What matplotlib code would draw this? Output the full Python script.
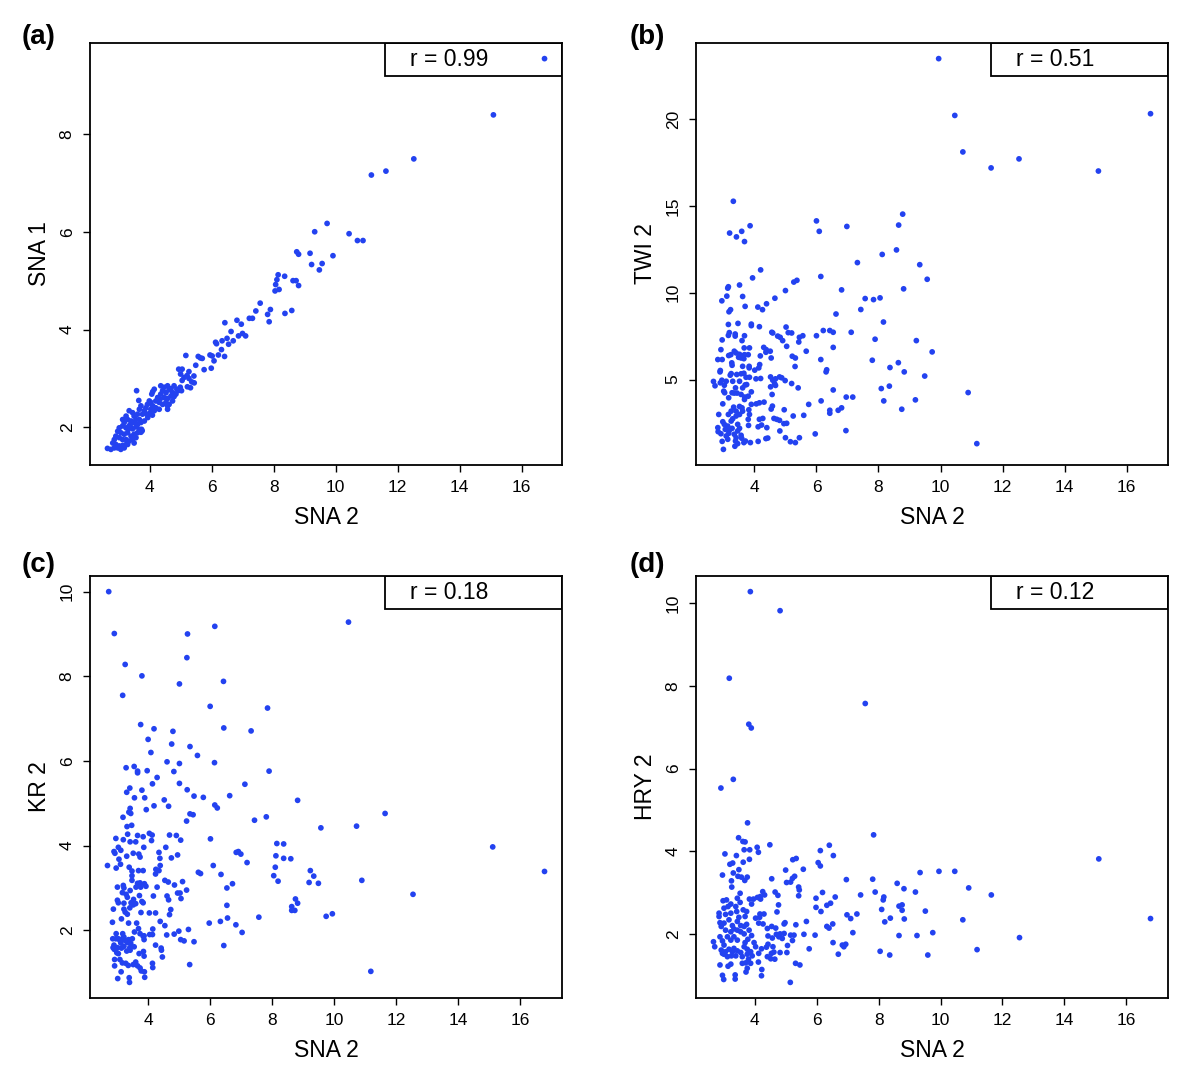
import matplotlib
matplotlib.use('Agg')
import matplotlib.pyplot as plt
from matplotlib.patches import Rectangle

plt.rcParams['font.family'] = ['Liberation Sans', 'DejaVu Sans']

# (SNA 2, SNA 1)
sna1_pts = [
    (16.74, 9.54), (15.09, 8.39), (12.52, 7.49), (11.62, 7.24), (11.15, 7.16), (9.72, 6.17), (9.32, 6.00),
    (10.43, 5.96), (10.70, 5.82), (10.88, 5.82), (9.91, 5.51), (9.17, 5.56), (8.74, 5.59), (8.80, 5.54),
    (9.22, 5.33), (9.56, 5.35), (9.47, 5.22), (8.14, 5.12), (8.35, 5.09), (8.10, 5.02), (8.06, 4.92),
    (8.04, 4.79), (8.17, 4.82), (8.62, 5.00), (8.72, 5.00), (8.80, 4.90), (7.56, 4.54), (7.89, 4.41),
    (7.42, 4.38), (7.80, 4.31), (7.85, 4.16), (8.36, 4.33), (8.58, 4.39), (7.21, 4.23), (7.31, 4.23),
    (6.81, 4.19), (6.95, 4.11), (6.42, 4.14), (6.62, 3.96), (6.86, 3.87), (6.99, 3.92), (7.09, 3.87),
    (6.49, 3.82), (6.69, 3.77), (6.33, 3.77), (6.12, 3.74), (6.15, 3.71), (6.54, 3.70), (6.31, 3.59),
    (6.21, 3.48), (6.41, 3.45), (5.94, 3.48), (6.01, 3.46), (6.07, 3.36), (5.98, 3.21), (5.75, 3.18),
    (5.16, 3.47), (5.56, 3.45), (5.63, 3.42), (5.69, 3.41), (5.48, 3.27), (4.93, 3.19), (5.04, 3.19),
    (4.99, 3.09), (5.26, 3.14), (5.20, 3.06), (5.42, 3.05), (5.10, 3.02), (5.04, 2.96), (5.26, 3.00),
    (5.43, 2.91), (5.35, 2.93), (5.21, 2.83), (5.31, 2.81), (3.57, 2.75), (3.64, 2.55), (4.98, 2.82),
    (5.02, 2.75),
    (4.09, 2.73), (4.14, 2.78), (4.06, 2.68), (4.35, 2.85), (4.46, 2.82), (4.57, 2.85), (4.68, 2.79),
    (4.78, 2.85), (4.87, 2.78), (4.91, 2.75), (4.41, 2.75), (4.52, 2.71), (4.62, 2.77), (4.73, 2.71),
    (4.84, 2.68), (4.35, 2.68), (4.25, 2.61), (4.33, 2.58), (4.46, 2.61), (4.57, 2.59), (4.68, 2.64),
    (4.78, 2.63), (4.19, 2.54), (4.30, 2.51), (4.41, 2.47), (4.52, 2.51), (4.62, 2.47), (4.73, 2.54),
    (4.03, 2.51), (4.09, 2.44), (4.19, 2.40), (4.30, 2.37), (4.14, 2.34), (4.03, 2.37), (3.98, 2.54),
    (3.92, 2.47), (3.87, 2.40), (3.82, 2.34), (3.71, 2.44), (3.66, 2.37), (3.76, 2.27), (3.90, 2.27),
    (4.00, 2.29), (4.57, 2.44), (4.57, 2.37), (3.60, 2.27), (3.49, 2.23), (3.55, 2.16), (3.66, 2.16),
    (3.71, 2.10), (3.82, 2.13), (3.60, 2.06), (3.49, 2.10), (3.39, 2.13), (3.28, 2.16), (3.23, 2.23),
    (3.33, 2.34), (3.44, 2.30), (3.17, 2.10), (3.12, 2.03), (3.23, 1.99), (3.33, 2.03), (3.44, 1.97),
    (3.55, 2.01), (3.66, 1.96), (3.71, 1.90), (3.60, 1.89), (3.49, 1.86), (3.01, 1.99), (2.96, 1.92),
    (3.06, 1.89), (3.17, 1.86), (3.28, 1.89), (3.39, 1.82), (2.90, 1.82), (3.01, 1.79), (3.12, 1.75),
    (3.23, 1.75), (3.33, 1.72), (3.44, 1.75), (3.55, 1.79), (2.85, 1.75), (2.80, 1.68), (2.90, 1.65),
    (3.01, 1.62), (3.12, 1.63), (3.23, 1.65), (3.17, 1.58), (3.06, 1.55), (2.96, 1.58), (2.85, 1.58),
    (2.74, 1.55), (2.63, 1.57), (3.73, 1.96), (3.30, 1.96), (3.37, 2.06), (3.12, 2.16), (3.49, 1.68),
    (3.28, 1.65), (3.93, 2.20), (4.08, 2.25), (3.75, 1.93),
]

# (SNA 2, TWI 2)
twi2_pts = [
    (9.94, 23.47), (10.46, 20.20), (16.77, 20.30), (10.72, 18.10), (11.63, 17.18), (12.53, 17.70),
    (15.09, 17.00), (3.32, 15.26), (3.20, 13.43), (3.42, 13.21), (3.59, 13.53), (3.68, 12.94),
    (3.86, 13.85), (6.00, 14.13), (6.09, 13.53), (6.98, 13.81), (8.78, 14.52), (8.65, 13.89),
    (8.58, 12.46), (8.12, 12.20), (7.32, 11.73), (9.33, 11.61), (9.57, 10.77), (8.81, 10.22),
    (4.20, 11.31), (6.14, 10.93), (5.27, 10.61), (5.37, 10.71), (3.94, 10.85), (3.52, 10.44),
    (3.16, 10.34), (3.14, 10.26), (5.00, 10.12), (6.81, 10.16), (7.57, 9.66), (7.84, 9.60),
    (8.05, 9.70), (7.43, 9.03), (8.16, 8.31), (6.63, 8.77), (7.89, 7.32), (9.22, 7.24), (9.73, 6.59),
    (7.80, 6.11), (8.64, 5.97), (8.37, 5.69), (8.83, 5.44), (9.49, 5.20), (8.35, 4.62), (8.09, 4.48),
    (8.17, 3.77), (10.89, 4.25), (9.19, 3.83), (8.75, 3.29), (11.17, 1.31), (7.12, 7.72), (6.96, 3.99),
    (7.17, 3.99), (6.95, 2.06), (6.81, 3.37), (6.70, 3.23), (6.43, 3.23), (6.43, 3.06), (6.54, 4.40),
    (6.54, 6.85), (6.15, 3.77), (6.33, 5.56), (6.31, 5.44), (6.14, 6.15), (6.00, 7.52), (6.22, 7.82),
    (6.43, 7.82), (6.54, 7.72), (5.96, 1.87),
    (2.95, 9.53), (3.11, 9.80), (3.62, 9.78), (3.23, 9.02), (3.18, 8.90), (3.70, 9.21), (4.11, 9.17),
    (4.26, 9.02), (4.39, 9.36), (4.66, 9.68), (3.16, 8.17), (3.47, 8.23), (3.90, 8.19), (3.90, 8.10),
    (4.16, 8.04), (5.02, 8.02), (3.19, 7.70), (3.16, 7.54), (3.38, 7.62), (3.38, 7.50), (3.68, 7.52),
    (2.96, 7.28), (3.60, 7.24), (4.56, 7.72), (4.59, 7.68), (4.75, 7.50), (4.83, 7.43), (4.91, 7.24),
    (5.09, 7.70), (5.20, 7.68), (5.45, 7.43), (5.56, 7.52), (5.43, 7.16), (5.67, 6.63), (2.92, 6.72),
    (2.82, 6.15), (2.96, 6.15), (3.17, 6.38), (3.24, 6.43), (3.35, 6.63), (3.41, 6.53), (3.52, 6.45),
    (3.60, 6.34), (3.68, 6.43), (3.80, 6.43), (3.49, 6.28), (3.57, 6.24), (3.66, 6.20), (3.84, 6.82),
    (3.67, 6.82), (3.27, 5.96), (3.28, 5.82), (3.62, 5.76), (3.83, 5.76), (3.83, 5.67), (4.17, 5.86),
    (4.14, 5.67), (4.01, 5.54), (4.30, 6.85), (4.38, 6.72), (4.37, 6.57), (4.19, 6.36), (4.51, 6.63),
    (2.90, 5.52), (2.89, 5.44), (2.68, 4.89), (2.73, 4.64), (2.95, 4.96), (2.90, 4.81), (3.25, 5.34),
    (3.22, 5.25), (3.01, 4.33), (3.04, 4.24), (3.35, 4.22), (3.44, 4.22), (3.17, 3.95), (3.30, 4.90),
    (3.57, 5.33), (3.66, 5.36), (3.73, 5.13), (3.84, 5.13), (3.70, 4.69), (3.62, 4.52), (3.69, 3.99),
    (3.68, 3.85), (3.90, 4.29), (4.05, 5.04), (4.20, 5.06), (4.52, 5.15), (4.59, 4.96), (4.68, 5.04),
    (4.81, 5.15), (4.88, 5.10), (4.52, 4.58), (4.65, 4.77), (4.68, 4.66), (4.57, 4.14), (4.99, 4.94),
    (5.20, 4.77), (5.41, 4.52), (5.31, 5.75), (5.22, 6.34), (5.32, 6.24), (5.04, 6.91), (4.54, 6.24),
    (4.06, 3.60), (4.16, 3.66), (4.31, 3.70), (4.58, 3.47), (4.54, 3.30), (4.96, 3.26), (4.63, 2.76),
    (4.72, 2.71), (4.81, 2.65), (4.12, 2.28), (4.40, 2.23), (5.04, 2.48), (4.95, 2.46), (5.25, 2.90),
    (4.82, 2.04), (5.00, 1.65), (5.16, 1.42), (5.32, 1.37), (5.45, 1.65), (5.59, 2.94), (5.75, 3.57),
    (4.37, 1.60), (4.43, 1.63), (4.12, 1.44), (3.87, 1.37), (3.66, 1.37), (3.71, 1.46), (3.59, 1.62),
    (3.57, 1.79), (3.41, 1.65), (3.39, 1.46), (3.46, 1.31), (3.37, 1.16), (3.00, 0.98), (2.96, 1.44),
    (3.14, 1.56), (2.82, 2.23), (2.83, 2.00), (2.92, 1.88), (3.03, 2.42), (3.06, 2.13), (2.98, 2.57),
    (3.14, 2.32), (3.19, 2.07), (3.28, 2.19), (3.09, 1.75), (3.17, 1.90), (3.35, 1.85), (3.46, 2.04),
    (3.30, 2.74), (3.41, 2.90), (3.52, 2.99), (3.25, 3.18), (3.33, 3.41), (3.41, 3.18), (3.52, 3.45),
    (3.60, 3.37), (3.62, 3.18), (3.16, 2.99), (3.25, 2.61), (3.46, 2.42), (3.52, 2.19), (2.85, 2.99),
    (2.98, 3.60), (3.80, 4.04), (3.82, 3.26), (3.84, 2.99), (3.80, 2.71), (3.81, 2.36), (3.90, 3.57),
    (4.16, 2.71), (4.23, 2.38), (4.27, 2.76), (3.57, 4.14), (3.28, 4.24), (3.09, 4.90), (3.03, 4.67),
    (3.43, 5.29), (3.52, 4.90), (3.39, 4.52), (3.75, 4.71),
]

# (SNA 2, KR 2)
kr2_pts = [
    (2.73, 10.00), (2.91, 9.01), (6.15, 9.18), (5.27, 9.00), (10.46, 9.28), (3.26, 8.28), (5.25, 8.44),
    (3.80, 8.01), (6.43, 7.88), (5.01, 7.82), (3.18, 7.55), (16.78, 3.39), (15.11, 3.97), (12.54, 2.85),
    (11.64, 4.76), (11.18, 1.03), (10.89, 3.18), (10.72, 4.46), (9.94, 2.39), (9.74, 2.33),
    (6.00, 7.29), (7.85, 7.25), (3.76, 6.86), (4.19, 6.76), (4.80, 6.70), (6.44, 6.78), (7.32, 6.71),
    (4.00, 6.51), (4.76, 6.40), (4.09, 6.20), (5.35, 6.34), (5.59, 6.13), (3.29, 5.84), (3.55, 5.87),
    (3.66, 5.76), (3.66, 5.72), (3.97, 5.77), (4.61, 5.98), (5.01, 5.94), (4.83, 5.75), (6.14, 5.96),
    (7.90, 5.76), (4.29, 5.61), (4.14, 5.46), (5.01, 5.47), (7.12, 5.45), (3.41, 5.36), (3.31, 5.26),
    (3.80, 5.31), (5.26, 5.32), (3.56, 5.13), (3.89, 5.13), (4.52, 5.08), (5.48, 5.17), (5.78, 5.14),
    (6.63, 5.18), (8.82, 5.07), (4.19, 4.94), (4.66, 4.93), (3.94, 4.85), (6.15, 4.96), (6.23, 4.89),
    (3.42, 4.88), (3.38, 4.79), (3.44, 4.76), (3.19, 4.67), (5.35, 4.75), (5.45, 4.73), (5.24, 4.58),
    (7.43, 4.60), (7.81, 4.68), (3.32, 4.45), (3.47, 4.48), (9.57, 4.42), (2.96, 4.17), (3.20, 4.14),
    (3.34, 4.27), (3.66, 4.24), (3.84, 4.21), (4.04, 4.29), (4.13, 4.25), (4.69, 4.25), (4.91, 4.24),
    (5.05, 4.13), (6.01, 4.16), (3.42, 4.09), (3.60, 4.09), (3.86, 3.96), (4.11, 4.12), (3.04, 3.96),
    (2.90, 3.86), (3.12, 3.89), (2.93, 3.82), (3.31, 3.75), (3.52, 3.82), (3.70, 3.80), (3.74, 3.73),
    (4.35, 3.84), (4.57, 3.96), (4.95, 3.78), (4.75, 3.71), (4.38, 3.70), (3.06, 3.68), (3.11, 3.56),
    (2.97, 3.47), (3.39, 3.49), (2.69, 3.53), (3.48, 3.40), (3.69, 3.41), (3.84, 3.41), (4.25, 3.44),
    (4.35, 3.41), (4.24, 3.33), (4.39, 3.53), (3.48, 3.29), (3.48, 3.18), (3.66, 3.11), (3.74, 3.12),
    (3.88, 3.10), (3.93, 3.04), (3.61, 3.02), (4.29, 3.02), (4.54, 3.18), (4.65, 3.14), (4.85, 3.07),
    (5.11, 3.15), (5.24, 2.95), (5.03, 2.88), (4.61, 2.81), (4.66, 2.72), (4.17, 2.81), (5.06, 2.75),
    (3.01, 3.02), (3.20, 3.06), (3.22, 3.00), (3.17, 2.89), (3.29, 2.85), (3.01, 2.71), (3.04, 2.65),
    (3.72, 2.82), (3.84, 2.65), (3.80, 2.68), (3.45, 2.65), (3.52, 2.60), (3.41, 2.53), (3.60, 2.63),
    (3.22, 2.50), (3.26, 2.43), (3.33, 2.38), (2.88, 2.50), (3.14, 2.27), (2.85, 2.19), (3.37, 2.17),
    (3.63, 2.17), (3.77, 2.42), (4.04, 2.41), (4.24, 2.41), (4.73, 2.49), (4.69, 2.37), (4.39, 2.21),
    (4.54, 2.11), (4.15, 2.03), (3.69, 2.04), (3.74, 1.92), (3.56, 1.96), (3.87, 1.87), (4.05, 1.90),
    (2.97, 1.92), (3.04, 1.80), (2.86, 1.80), (3.17, 1.80), (3.26, 1.76), (3.37, 1.78), (3.44, 1.69),
    (2.90, 1.65), (3.01, 1.59), (2.91, 1.55), (3.12, 1.70), (3.22, 1.62), (3.41, 1.59), (2.99, 1.47),
    (3.04, 1.45), (3.42, 1.53), (3.84, 1.86), (3.87, 1.78), (3.85, 1.50), (3.71, 1.45), (3.87, 1.39),
    (4.24, 1.65), (4.42, 1.58), (4.43, 1.53), (4.46, 1.37), (4.60, 1.89), (4.84, 1.91), (4.99, 1.98),
    (5.05, 1.78), (5.16, 1.75), (5.30, 2.02), (5.48, 1.73), (5.34, 1.19), (4.14, 1.90), (4.14, 1.22),
    (4.15, 1.12), (2.92, 1.31), (2.92, 1.16), (3.09, 1.31), (3.17, 1.23), (3.28, 1.22), (3.36, 1.17),
    (3.52, 1.19), (3.60, 1.25), (3.66, 1.16), (3.74, 1.11), (3.78, 1.04), (3.88, 1.02), (3.89, 0.89),
    (3.02, 0.86), (3.39, 0.88), (3.40, 0.77), (3.13, 1.02), (5.62, 3.37), (5.69, 3.34), (6.10, 3.53),
    (6.35, 3.32), (6.72, 3.10), (6.54, 3.00), (6.54, 2.59), (6.56, 2.29), (6.33, 2.21), (5.97, 2.17),
    (6.83, 2.13), (7.03, 1.95), (6.44, 1.64), (6.84, 3.84), (6.91, 3.86), (6.99, 3.80), (7.19, 3.60),
    (7.57, 2.31), (8.15, 4.05), (8.37, 4.04), (8.12, 3.76), (8.37, 3.70), (8.60, 3.69), (8.10, 3.49),
    (8.05, 3.29), (8.19, 3.16), (9.23, 3.41), (9.34, 3.28), (9.19, 3.13), (9.49, 3.11), (8.75, 2.74),
    (8.82, 2.64), (8.63, 2.56), (8.73, 2.47), (8.63, 2.47), (4.95, 2.88), (2.96, 1.80), (3.10, 1.75),
    (3.22, 1.84), (3.33, 1.71), (3.14, 1.58), (3.31, 1.51), (3.49, 1.80), (3.18, 1.92), (2.87, 1.59),
    (3.55, 1.61), (3.33, 2.78), (3.53, 2.73), (3.76, 3.02), (3.42, 2.94), (3.22, 2.64),
]

# (SNA 2, HRY 2)
hry2_pts = [
    (3.86, 10.27), (4.82, 9.81), (3.18, 8.18), (7.57, 7.57), (3.81, 7.07), (3.89, 6.98), (3.31, 5.74),
    (7.84, 4.40), (15.11, 3.82), (16.78, 2.38), (12.55, 1.92), (11.64, 2.95), (11.18, 1.63),
    (10.91, 3.12), (10.72, 2.35), (10.46, 3.52), (9.95, 3.52), (9.75, 2.04), (9.59, 1.50), (9.51, 2.56),
    (9.34, 3.49), (9.24, 1.97), (9.19, 3.02), (8.83, 2.37), (8.82, 3.10), (8.76, 2.71), (8.76, 2.58),
    (8.66, 2.68), (8.66, 1.97), (8.60, 3.23), (8.38, 2.39), (8.36, 1.50), (8.20, 2.30), (8.17, 2.90),
    (8.15, 2.83), (8.10, 2.60), (8.05, 1.59), (7.89, 3.02), (7.81, 3.33),
    (2.91, 5.53), (3.77, 4.69), (3.48, 4.33), (3.62, 4.24), (3.69, 4.23), (3.66, 4.04), (3.84, 4.04),
    (4.08, 4.10), (4.12, 3.98), (4.49, 4.16), (3.04, 3.94), (3.41, 3.90), (3.83, 3.81), (3.63, 3.74),
    (3.29, 3.72), (3.20, 3.69), (3.49, 3.56), (3.31, 3.48), (3.57, 3.38), (3.46, 3.40), (3.25, 3.29),
    (2.96, 3.43), (3.26, 3.14), (3.76, 3.38), (3.68, 3.30), (3.53, 2.99), (4.55, 3.34), (4.26, 3.03),
    (4.18, 2.91), (4.32, 2.95), (3.83, 2.85), (3.96, 2.85), (4.09, 2.89), (4.19, 2.85), (3.90, 2.73),
    (4.66, 3.02), (4.75, 2.94), (4.77, 2.71), (4.72, 2.54), (5.03, 3.25), (5.16, 3.26), (5.22, 3.35),
    (5.29, 3.40), (5.23, 3.80), (5.34, 3.83), (5.00, 3.55), (5.57, 3.57), (5.42, 3.14), (5.44, 3.07),
    (5.42, 2.93), (6.12, 4.02), (6.41, 4.15), (6.54, 3.90), (6.05, 3.73), (6.12, 3.65), (6.96, 3.32),
    (6.19, 3.01), (5.98, 2.87), (6.60, 2.90), (6.45, 2.75), (6.33, 2.70), (5.98, 2.65), (6.14, 2.55),
    (7.42, 2.95), (6.98, 2.47), (7.10, 2.38), (7.30, 2.49), (7.17, 2.04), (6.52, 2.25), (6.33, 2.19),
    (6.40, 2.15), (5.67, 2.31), (5.33, 2.23), (5.59, 2.00), (5.95, 1.98), (6.53, 1.80), (6.83, 1.74),
    (6.88, 1.70), (6.94, 1.76), (6.70, 1.52), (5.76, 1.65), (5.32, 1.30), (5.46, 1.26), (5.15, 0.84),
    (5.22, 1.85), (5.06, 1.73), (5.04, 1.56), (5.16, 1.98), (5.27, 1.98), (4.95, 2.02), (4.82, 2.01),
    (4.89, 1.90), (4.95, 2.25), (4.98, 2.28), (4.55, 2.19), (4.41, 2.14), (4.68, 2.15), (4.27, 2.25),
    (4.13, 2.27), (4.03, 2.39), (4.17, 2.49), (4.30, 2.49), (4.16, 2.41), (4.43, 1.96), (4.57, 1.91),
    (4.70, 2.00), (4.78, 1.94), (4.43, 1.76), (4.59, 1.70), (4.62, 1.57), (4.54, 1.54), (4.41, 1.46),
    (4.52, 1.41), (4.65, 1.40), (4.38, 1.69), (4.82, 1.56), (4.22, 1.65), (4.13, 1.54), (4.12, 1.33),
    (4.23, 1.15), (4.22, 1.00), (3.90, 1.97), (3.78, 1.88), (3.69, 1.80), (3.66, 1.70), (3.76, 1.64),
    (3.87, 1.58), (3.76, 1.52), (3.98, 1.80), (4.03, 1.70), (3.92, 1.48), (3.80, 1.40), (3.87, 1.30),
    (3.71, 1.31), (3.60, 1.30), (3.72, 1.09), (3.76, 1.18), (3.55, 2.21), (3.66, 2.19), (3.74, 2.24),
    (3.44, 2.31), (3.28, 2.21), (3.33, 2.13), (3.49, 2.41), (3.42, 2.55), (3.23, 2.51), (3.06, 2.48),
    (3.17, 2.35), (3.01, 2.27), (2.92, 2.19), (2.88, 2.28), (2.85, 2.51), (2.85, 2.43), (2.98, 2.81),
    (3.09, 2.83), (3.01, 2.63), (3.14, 2.67), (3.23, 2.73), (3.39, 2.67), (3.44, 2.87), (3.53, 2.77),
    (3.63, 2.59), (3.69, 2.43), (3.74, 2.55), (2.67, 1.82), (2.71, 1.70), (2.88, 1.94), (2.96, 1.84),
    (3.01, 1.74), (3.12, 1.94), (3.23, 1.86), (3.33, 1.94), (3.44, 1.86), (2.92, 1.62), (2.96, 1.54),
    (3.06, 1.58), (3.17, 1.64), (3.28, 1.58), (3.33, 1.66), (3.44, 1.60), (3.55, 1.56), (3.39, 1.48),
    (3.25, 1.48), (3.12, 1.46), (3.01, 1.52), (2.88, 1.26), (3.14, 1.23), (3.23, 1.28), (2.96, 1.01),
    (3.00, 0.91), (3.37, 1.02), (3.37, 0.92), (3.60, 1.46), (3.66, 2.01), (3.82, 2.10), (3.55, 2.06),
    (3.44, 2.10), (3.23, 2.06), (3.06, 2.10),
]

panels = [
    ('(a)', sna1_pts, 'SNA 1', [2, 4, 6, 8], 'r = 0.99'),
    ('(b)', twi2_pts, 'TWI 2', [5, 10, 15, 20], 'r = 0.51'),
    ('(c)', kr2_pts, 'KR 2', [2, 4, 6, 8, 10], 'r = 0.18'),
    ('(d)', hry2_pts, 'HRY 2', [2, 4, 6, 8, 10], 'r = 0.12'),
]

dot_color = '#2342f0'

fig = plt.figure(figsize=(12, 10.85), dpi=100)

ax_w = 472 / 1200
ax_h = 422 / 1085
lefts = [90 / 1200, 696 / 1200]
bottoms = [1 - 465 / 1085, 1 - 998 / 1085]


def r_lim(values):
    lo, hi = min(values), max(values)
    pad = 0.04 * (hi - lo)
    return lo - pad, hi + pad


for i, (tag, pts, ylabel, yticks, rtext) in enumerate(panels):
    row, col = divmod(i, 2)
    ax = fig.add_axes([lefts[col], bottoms[row], ax_w, ax_h])

    xs = [p[0] for p in pts]
    ys = [p[1] for p in pts]
    ax.scatter(xs, ys, s=17, c=dot_color, edgecolors='none', zorder=2)

    ax.set_xlim(r_lim(xs))
    ax.set_ylim(r_lim(ys))
    ax.set_xticks([4, 6, 8, 10, 12, 14, 16])
    ax.set_yticks(yticks)

    for side in ax.spines.values():
        side.set_linewidth(1.3)
    ax.tick_params(direction='out', length=5, width=1, labelsize=12.5, pad=6)
    plt.setp(ax.get_yticklabels(), rotation=90, va='center')

    ax.set_xlabel('SNA 2', fontsize=16.5, labelpad=8)
    ax.set_ylabel(ylabel, fontsize=16.5, labelpad=6)

    # legend-style box in the top right corner
    ax.add_patch(Rectangle((0.625, 0.922), 0.375, 0.078, transform=ax.transAxes,
                           fill=False, edgecolor='black', linewidth=1.3, zorder=3))
    ax.text(0.678, 0.961, rtext, transform=ax.transAxes, fontsize=16.5,
            va='center', ha='left')

    label_x = 0.018 if col == 0 else 0.525
    label_y = 0.966 if row == 0 else 0.479
    fig.text(label_x, label_y, tag, fontsize=20, fontweight='bold', va='center')

fig.savefig('out.png', dpi=100)
